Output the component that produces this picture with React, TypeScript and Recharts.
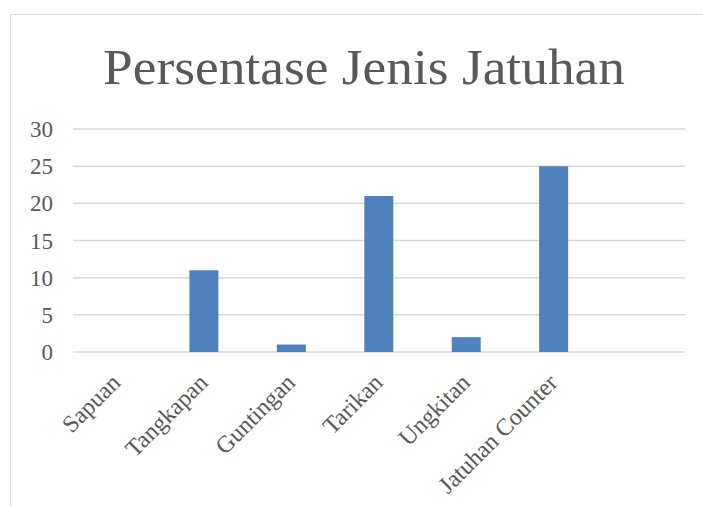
import React from "react";
import { BarChart, Bar, XAxis, YAxis, CartesianGrid } from "recharts";

const categories = ["Sapuan", "Tangkapan", "Guntingan", "Tarikan", "Ungkitan", "Jatuhan Counter", " "];
const values = [0, 11, 1, 21, 2, 25, null];
const yTicks = [0, 5, 10, 15, 20, 25, 30];

const data = categories.map((name, i) => ({ name, value: values[i] }));

const FONT = "'Liberation Serif', 'Times New Roman', serif";
const TEXT = "#595959";

function XTick({ x, y, payload }: any) {
  const ax = x + 5;
  const ay = y + 24;
  return (
    <text
      x={ax}
      y={ay}
      transform={`rotate(-45, ${ax}, ${ay})`}
      textAnchor="end"
      fill={TEXT}
      fontFamily={FONT}
      fontSize={24}
    >
      {payload.value}
    </text>
  );
}

export default function App() {
  return (
    <div
      style={{
        position: "absolute",
        left: 0,
        top: 0,
        width: 703,
        height: 506,
        overflow: "hidden",
        background: "#fff",
      }}
    >
      <div
        style={{
          position: "absolute",
          left: 10,
          top: 14,
          width: 800,
          height: 600,
          border: "1.5px solid #d9d9d9",
        }}
      />
      <svg
        width={703}
        height={110}
        style={{ position: "absolute", left: 0, top: 0 }}
      >
        <text
          x={364}
          y={84}
          textAnchor="middle"
          fill={TEXT}
          fontFamily={FONT}
          fontSize={51}
          textLength={522}
          lengthAdjust="spacingAndGlyphs"
        >
          Persentase Jenis Jatuhan
        </text>
      </svg>
      <div style={{ position: "absolute", left: 0, top: 0 }}>
        <BarChart
          width={703}
          height={506}
          data={data}
          margin={{ top: 129, right: 18, bottom: 4, left: 13 }}
        >
          <CartesianGrid vertical={false} stroke="#d9d9d9" strokeWidth={1.5} />
          <XAxis
            dataKey="name"
            axisLine={false}
            tickLine={false}
            interval={0}
            height={150}
            tick={<XTick />}
          />
          <YAxis
            width={60}
            domain={[0, 30]}
            ticks={yTicks}
            axisLine={false}
            tickLine={false}
            tickSize={0}
            tickMargin={20}
            tick={{ fill: TEXT, fontFamily: FONT, fontSize: 23 }}
          />
          <Bar dataKey="value" fill="#4f81bd" barSize={29} isAnimationActive={false} />
        </BarChart>
      </div>
    </div>
  );
}
